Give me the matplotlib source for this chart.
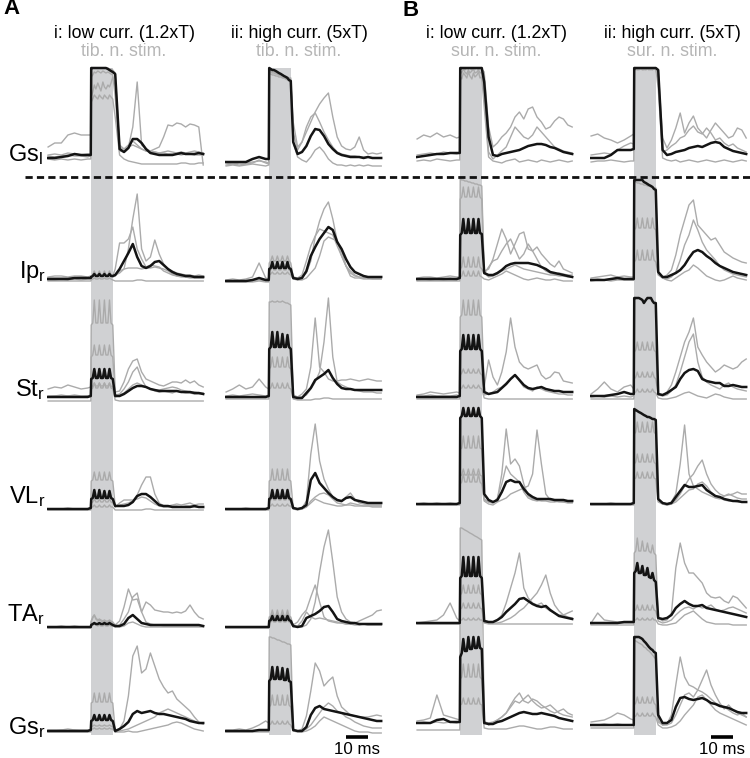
import matplotlib
matplotlib.use('Agg')
import matplotlib.pyplot as plt

plt.rcParams['font.family'] = ['Liberation Sans', 'DejaVu Sans']
plt.rcParams['mathtext.fontset'] = 'custom'
plt.rcParams['mathtext.rm'] = 'Liberation Sans'
plt.rcParams['mathtext.it'] = 'Liberation Sans'

# ---------------- time grid (ms, stimulus train 0-10 ms) ----------------
T_PRE = [-19.5, -16.5, -13.5, -10.5, -7.5, -4.5, -1.5, -0.1]
T_STIM = [0.1, 0.8, 1.5, 2.2, 3.1, 3.8, 4.5, 5.4, 6.1, 6.8, 7.7, 8.4, 9.1, 9.9]
T_POST = [11, 13, 15, 17, 19, 21, 23, 25, 27, 29, 31, 33, 35, 37, 39, 41, 43, 45, 47, 49, 51]
TIME = T_PRE + T_STIM + T_POST


def tr(pre, stim, post):
    assert len(pre) == 8 and len(stim) == 14 and len(post) == 21, (len(pre), len(stim), len(post))
    return pre + stim + post

# ---------------- labels ----------------
ROW_LABELS = [r'Gs$_{\rm l}$', r'Ip$_{\rm r}$', r'St$_{\rm r}$', r'VL$_{\rm r}$', r'TA$_{\rm r}$', r'Gs$_{\rm r}$']
COL_TITLES = ['i: low curr. (1.2xT)', 'ii: high curr. (5xT)', 'i: low curr. (1.2xT)', 'ii: high curr. (5xT)']
COL_SUBTITLES = ['tib. n. stim.', 'tib. n. stim.', 'sur. n. stim.', 'sur. n. stim.']
PANEL_LETTERS = ['A', 'B']
SCALE_LABEL = '10 ms'
SCALE_MS = [35, 45]

# ---------------- EMG envelopes (amplitude above baseline) ----------------
# Gs_l
GSL_AI_K = tr([-1, -1, 0, 1, 3, 2, 2, 2], [89, 89, 89, 89, 89, 89, 89, 89, 89, 89, 88, 87, 86, 85],
              [83, 8, 5, 9, 18, 18, 14, 8, 4, 3, 2, 2, 2, 2, 3, 4, 3, 3, 3, 4, 3])
GSL_AI_G = [
    tr([10, 14, 14, 22, 24, 22, 22, 22], [60, 65, 72, 68, 74, 70, 66, 75, 70, 68, 72, 70, 74, 80],
       [70, 12, 8, 10, 12, 10, 8, 6, 6, 8, 10, 20, 32, 31, 34, 33, 30, 33, 32, 30, -8]),
    tr([2, 3, 2, 4, 3, 2, 3, 3], [80, 82, 85, 84, 86, 85, 84, 86, 85, 84, 85, 84, 83, 82],
       [60, 6, 5, 10, 30, 75, 12, 8, 6, 5, 4, 4, 3, 3, 3, 2, 3, 3, 2, 2, 2]),
    tr([-2, -3, -2, -3, -2, -3, -2, -2], [55, 58, 62, 60, 58, 62, 60, 58, 62, 60, 58, 62, 60, 58],
       [40, 2, -2, -4, -5, -6, -7, -7, -7, -7, -7, -7, -7, -7, -7, -6, -6, -7, -7, -6, -6]),
    tr([1, 0, 1, 2, 1, 1, 0, 1], [89, 89, 89, 89, 89, 89, 89, 89, 89, 89, 89, 88, 88, 87],
       [84, 10, 8, 12, 16, 12, 8, 6, 5, 5, 4, 5, 6, 5, 4, 5, 4, 5, 6, 5, 4]),
]
GSL_AII_K = tr([0, 0, 0, 0, 3, 5, 3, 3], [94, 93, 92, 92, 91, 90, 89, 88, 87, 86, 85, 84, 82, 81],
               [20, 8, 10, 16, 26, 33, 32, 26, 18, 13, 9, 7, 6, 5, 5, 5, 4, 5, 4, 4, 4])
GSL_AII_G = [
    tr([-3, -2, -3, -2, -1, 2, -1, -2], [92, 91, 90, 90, 89, 88, 87, 86, 85, 84, 83, 82, 81, 80],
       [40, 15, 20, 30, 40, 50, 58, 64, 69, 45, 25, 16, 13, 12, 15, 25, 12, 8, 9, 8, 9]),
    tr([-1, -2, -1, -1, 0, 1, 0, -1], [90, 90, 89, 89, 88, 88, 87, 87, 86, 86, 85, 85, 84, 84],
       [30, 12, 20, 35, 45, 49, 40, 30, 22, 15, 10, 8, 7, 6, 6, 5, 5, 5, 4, 4, 4]),
    tr([-4, -3, -4, -3, -2, -3, -4, -3], [88, 88, 87, 87, 86, 86, 85, 85, 84, 84, 83, 83, 82, 82],
       [20, 5, 2, 0, 5, 12, 15, 10, 3, -1, -3, -3, -4, -3, -4, -3, -4, -3, -4, -4, -4]),
]
GSL_BI_K = tr([0, 1, 2, 3, 3, 4, 4, 4], [89, 89, 89, 89, 89, 89, 89, 89, 89, 89, 89, 89, 89, 89],
              [75, 20, 2, 1, 3, 4, 5, 6, 7, 9, 11, 12, 13, 13, 12, 10, 9, 7, 5, 4, 3])
GSL_BI_G = [
    tr([18, 22, 20, 24, 20, 22, 19, 20], [89, 88, 89, 87, 89, 88, 89, 87, 89, 88, 89, 87, 89, 88],
       [85, 30, 10, 14, 20, 24, 30, 40, 45, 38, 48, 50, 40, 35, 28, 30, 36, 40, 38, 32, 30]),
    tr([-4, -3, -4, -2, -3, -4, -3, -3], [86, 84, 88, 85, 83, 87, 84, 86, 88, 84, 85, 87, 84, 85],
       [60, 5, -2, 2, 6, 10, 20, 30, 25, 20, 18, 22, 30, 25, 20, 15, 10, 8, 6, 5, 4]),
    tr([2, 3, 4, 3, 5, 4, 3, 4], [80, 78, 84, 82, 79, 85, 81, 78, 84, 80, 82, 85, 79, 80],
       [50, 0, -4, -5, -6, -4, -3, -2, -5, -4, -3, -4, -5, -3, -4, -5, -4, -3, -4, -5, -4]),
]
GSL_BII_K = tr([0, 0, 0, 3, 8, 8, 8, 9], [90, 90, 90, 90, 90, 90, 90, 90, 90, 90, 90, 90, 90, 90],
               [88, 8, 3, 4, 6, 7, 8, 10, 11, 12, 11, 13, 15, 16, 15, 11, 9, 7, 6, 5, 4])
GSL_BII_G = [
    tr([22, 24, 20, 18, 15, 18, 22, 24], [90, 89, 90, 88, 90, 89, 90, 88, 90, 89, 90, 88, 90, 89],
       [88, 20, 10, 18, 30, 45, 25, 35, 42, 30, 25, 20, 28, 35, 30, 25, 20, 22, 30, 28, 20]),
    tr([-4, -3, -3, -2, -3, -4, -3, -3], [89, 90, 88, 90, 89, 90, 88, 90, 89, 90, 88, 90, 89, 90],
       [70, 0, -2, -3, -2, -4, -3, -2, -3, -4, -3, -2, -3, -4, -3, -2, -3, -4, -3, -2, -3]),
    tr([3, 4, 5, 4, 8, 12, 15, 14], [90, 88, 90, 89, 90, 88, 90, 89, 90, 88, 90, 89, 90, 88],
       [80, 6, 8, 12, 15, 20, 22, 28, 32, 26, 24, 30, 25, 18, 20, 15, 12, 14, 10, 8, 6]),
]
# Ip_r
IPR_AI_K = tr([0, 0, 0, 0, 1, 1, 1, 1], [2, 3, 5, 3, 3, 5, 3, 3, 5, 3, 3, 5, 3, 3],
              [4, 10, 18, 26, 35, 22, 13, 11, 13, 17, 18, 14, 10, 7, 5, 4, 3, 3, 2, 2, 2])
IPR_AI_G = [
    tr([2, 3, 3, 2, 3, 3, 2, 3], [3, 4, 8, 4, 4, 8, 4, 4, 8, 4, 4, 8, 4, 3],
       [4, 6, 10, 30, 60, 85, 30, 18, 22, 39, 25, 15, 10, 8, 6, 5, 4, 4, 3, 4, 3]),
    tr([1, 1, 1, 1, 1, 2, 1, 1], [3, 4, 7, 4, 4, 7, 4, 4, 7, 4, 4, 7, 4, 3],
       [10, 36, 36, 40, 52, 30, 20, 12, 14, 13, 12, 8, 6, 4, 3, 3, 2, 2, 3, 2, 2]),
    tr([-1, -1, 0, -1, 0, -1, 0, 0], [2, 3, 4, 3, 3, 4, 3, 3, 4, 3, 3, 4, 3, 2],
       [3, 8, 10, 11, 11, 11, 10, 11, 11, 12, 11, 10, 8, 5, 3, 2, 2, 1, 1, 1, 1]),
    tr([-2, -2, -2, -2, -2, -2, -2, -2], [-1, 0, 1, 0, 0, 1, 0, 0, 1, 0, 0, 1, 0, -1],
       [-2, -2, -2, -2, -2, -1, -1, -2, -2, -2, -2, -2, -2, -2, -2, -2, -2, -2, -2, -2, -2]),
]
IPR_AII_K = tr([0, 0, 0, 0, 1, 3, 1, 1], [12, 13, 19, 13, 13, 19, 13, 13, 19, 13, 13, 19, 13, 12],
               [3, 2, 3, 10, 25, 34, 42, 48, 54, 51, 39, 32, 22, 14, 9, 7, 5, 4, 4, 4, 4])
IPR_AII_G = [
    tr([1, 2, 1, 2, 4, 18, 3, 2], [18, 20, 25, 20, 20, 25, 20, 20, 25, 20, 20, 25, 20, 18],
       [4, 3, 4, 8, 20, 44, 60, 72, 79, 62, 40, 25, 15, 8, 5, 4, 3, 3, 3, 3, 3]),
    tr([0, 0, 0, 0, 0, 1, 0, 0], [10, 11, 15, 11, 11, 15, 11, 11, 15, 11, 11, 15, 11, 10],
       [2, 1, 1, 3, 8, 13, 25, 40, 44, 42, 40, 30, 15, 5, 3, 3, 2, 2, 2, 2, 2]),
    tr([-1, -1, -1, -1, -1, 0, -1, -1], [6, 7, 9, 7, 7, 9, 7, 7, 9, 7, 7, 9, 7, 6],
       [2, 3, 6, 20, 35, 45, 52, 50, 48, 46, 35, 25, 15, 10, 6, 4, 3, 3, 2, 2, 2]),
]
IPR_BI_K = tr([0, 0, 0, 0, 0, 0, 0, 1], [44, 46, 60, 46, 46, 60, 46, 46, 60, 46, 46, 60, 46, 45],
              [6, 4, 4, 6, 9, 13, 15, 16, 16, 16, 16, 15, 14, 12, 10, 7, 6, 5, 4, 3, 2])
IPR_BI_G = [
    tr([1, 2, 2, 1, 2, 3, 2, 2], [80, 82, 92, 82, 82, 92, 82, 82, 92, 82, 82, 92, 82, 80],
       [8, 10, 20, 35, 50, 40, 25, 35, 45, 47, 30, 28, 32, 25, 20, 15, 12, 18, 10, 8, 6]),
    tr([-1, 0, -1, 0, -1, 0, -1, 0], [10, 12, 22, 12, 12, 22, 12, 12, 22, 12, 12, 22, 12, 10],
       [5, 12, 18, 20, 28, 35, 40, 30, 20, 25, 35, 28, 20, 12, 8, 6, 4, 6, 5, 4, 4]),
    tr([-2, -2, -2, -2, -2, -2, -2, -2], [2, 3, 8, 3, 3, 8, 3, 3, 8, 3, 3, 8, 3, 2],
       [0, -1, 1, 3, 5, 8, 6, 4, 2, 0, -1, 0, 1, 0, -1, -1, 0, -1, -2, -2, -2]),
    tr([0, 0, 1, 0, 0, 1, 0, 0], [100, 99, 99, 98, 98, 97, 97, 96, 96, 95, 95, 94, 94, 93],
       [6, 2, 3, 5, 8, 10, 12, 14, 12, 10, 9, 8, 7, 6, 5, 4, 4, 3, 3, 2, 2]),
]
IPR_BII_K = tr([0, 0, 0, 1, 2, 1, 1, 1], [100, 100, 100, 100, 100, 100, 98, 97, 96, 95, 94, 93, 91, 90],
               [8, 3, 3, 5, 7, 10, 15, 22, 28, 30, 28, 24, 21, 17, 14, 12, 10, 8, 7, 6, 5])
IPR_BII_G = [
    tr([2, 3, 4, 5, 3, 4, 3, 3], [50, 52, 62, 52, 52, 62, 52, 52, 62, 52, 52, 62, 52, 50],
       [8, 2, 5, 10, 25, 45, 60, 75, 80, 55, 50, 45, 40, 42, 35, 28, 25, 22, 20, 18, 17]),
    tr([-1, 0, 0, -1, 0, 0, 0, 0], [18, 20, 30, 20, 20, 30, 20, 20, 30, 20, 20, 30, 20, 18],
       [5, 2, 1, 3, 8, 20, 35, 45, 60, 50, 38, 30, 25, 20, 14, 10, 8, 6, 5, 4, 3]),
    tr([0, 1, 0, 0, 1, 0, 0, 0], [98, 98, 97, 97, 96, 96, 95, 95, 94, 94, 93, 93, 92, 92],
       [6, 2, 0, -1, 2, 5, 8, 10, 15, 12, 8, 4, 2, 0, -1, 0, 2, 4, 2, 1, 0]),
]
# St_r
STR_AI_K = tr([0, 0, 0, 0, 0, 0, 0, 1], [18, 19, 28, 19, 19, 28, 19, 19, 28, 19, 19, 28, 19, 18],
              [1, 1, 3, 6, 9, 11, 11, 10, 8, 7, 6, 6, 6, 6, 6, 5, 5, 5, 4, 4, 3])
STR_AI_G = [
    tr([8, 10, 9, 12, 10, 8, 9, 10], [72, 74, 97, 74, 74, 97, 74, 74, 97, 74, 74, 97, 74, 72],
       [5, 6, 15, 28, 36, 38, 25, 18, 16, 14, 12, 11, 13, 15, 15, 14, 17, 14, 16, 12, 10]),
    tr([1, 1, 2, 1, 2, 1, 1, 2], [40, 42, 52, 42, 42, 52, 42, 42, 52, 42, 42, 52, 42, 40],
       [2, 3, 8, 15, 25, 30, 18, 10, 8, 6, 5, 6, 5, 4, 6, 5, 4, 4, 3, 3, 3]),
    tr([-4, -4, -4, -4, -4, -4, -4, -4], [8, 9, 14, 9, 9, 14, 9, 9, 14, 9, 9, 14, 9, 8],
       [-3, -4, -4, -4, -4, -4, -4, -4, -4, -4, -4, -4, -4, -4, -4, -4, -4, -4, -4, -4, -4]),
    tr([0, 1, 0, 1, 1, 0, 1, 1], [10, 11, 14, 11, 11, 14, 11, 11, 14, 11, 11, 14, 11, 10],
       [0, 2, 4, 8, 12, 14, 12, 10, 8, 7, 7, 8, 9, 10, 9, 7, 6, 5, 5, 4, 4]),
]
STR_AII_K = tr([0, 0, 0, 0, 0, 0, 0, 1], [48, 50, 65, 50, 50, 65, 50, 50, 63, 50, 50, 62, 50, 48],
               [0, -1, -1, 4, 9, 17, 20, 23, 27, 19, 13, 9, 8, 8, 7, 7, 7, 7, 7, 7, 7])
STR_AII_G = [
    tr([5, 8, 12, 8, 10, 18, 10, 8], [95, 95, 96, 95, 95, 96, 95, 95, 96, 95, 94, 94, 93, 92],
       [2, 0, 3, 8, 30, 79, 30, 25, 18, 16, 16, 17, 17, 18, 17, 16, 17, 18, 17, 16, 16]),
    tr([1, 2, 1, 2, 3, 2, 1, 2], [28, 30, 40, 30, 30, 40, 30, 30, 40, 30, 30, 40, 30, 28],
       [1, 0, 0, 2, 8, 15, 25, 55, 99, 40, 15, 12, 10, 8, 7, 6, 5, 5, 5, 4, 4]),
    tr([-2, -2, -2, -2, -2, -2, -2, -2], [8, 9, 14, 9, 9, 14, 9, 9, 14, 9, 9, 14, 9, 8],
       [-2, -3, -3, -3, -3, -2, -2, -1, -1, -2, -2, -2, -2, -2, -2, -2, -2, -2, -2, -2, -2]),
]
STR_BI_K = tr([0, 0, 0, 0, 0, 0, 0, 1], [46, 48, 62, 48, 48, 62, 48, 48, 62, 48, 48, 62, 48, 46],
              [5, 3, 4, 5, 9, 13, 18, 22, 17, 12, 9, 8, 9, 10, 8, 7, 6, 6, 5, 5, 5])
STR_BI_G = [
    tr([2, 3, 5, 4, 3, 4, 5, 4], [80, 82, 97, 82, 82, 97, 82, 82, 97, 82, 82, 97, 82, 80],
       [10, 37, 20, 12, 25, 45, 79, 50, 35, 30, 28, 30, 32, 22, 18, 20, 25, 24, 16, 15, 14]),
    tr([1, 1, 2, 1, 1, 1, 2, 1], [22, 24, 28, 24, 24, 28, 24, 24, 28, 24, 24, 28, 24, 22],
       [2, 3, 5, 8, 10, 14, 18, 22, 16, 10, 8, 6, 10, 8, 6, 5, 4, 3, 3, 2, 2]),
    tr([-2, -2, -2, -2, -2, -2, -2, -2], [8, 9, 12, 9, 9, 12, 9, 9, 12, 9, 9, 12, 9, 8],
       [-1, -2, -2, -2, -2, -2, -2, -2, -2, -2, -2, -2, -2, -2, -2, -2, -2, -2, -2, -2, -2]),
]
STR_BII_K = tr([1, 1, 1, 2, 3, 5, 3, 3], [99, 99, 99, 99, 98, 97, 94, 97, 99, 99, 99, 96, 94, 94],
               [3, 2, 4, 7, 10, 18, 24, 27, 28, 26, 18, 16, 15, 14, 14, 11, 11, 12, 11, 10, 10])
STR_BII_G = [
    tr([3, 8, 15, 8, 5, 10, 12, 8], [45, 47, 55, 47, 47, 55, 47, 47, 55, 47, 47, 55, 47, 45],
       [3, 2, 5, 12, 25, 40, 55, 65, 79, 50, 42, 35, 30, 25, 28, 32, 30, 28, 30, 35, 38]),
    tr([0, 1, 0, 1, 0, 1, 0, 1], [18, 20, 25, 20, 20, 25, 20, 20, 25, 20, 20, 25, 20, 18],
       [2, 1, 2, 6, 12, 25, 40, 55, 63, 35, 20, 15, 12, 10, 8, 12, 14, 10, 8, 7, 6]),
    tr([-2, -2, -2, -2, -2, -2, -2, -2], [4, 5, 8, 5, 5, 8, 5, 5, 8, 5, 5, 8, 5, 4],
       [-1, -2, -2, -1, 0, 2, 4, 5, 3, 1, 0, -1, 1, 3, 2, 0, -1, -2, -2, -2, -2]),
]
# VL_r
VLR_AI_K = tr([0, 0, 0, 0, 0, 0, 0, 1], [10, 11, 19, 11, 11, 19, 11, 11, 18, 11, 11, 18, 11, 10],
              [3, 3, 3, 4, 7, 13, 15, 15, 12, 8, 4, 3, 3, 2, 2, 2, 2, 2, 3, 2, 2])
VLR_AI_G = [
    tr([0, 0, 0, 1, 0, 0, 0, 1], [28, 29, 37, 29, 29, 37, 29, 29, 37, 29, 29, 37, 29, 28],
       [3, 4, 5, 6, 8, 14, 24, 32, 32, 15, 6, 3, 3, 4, 5, 4, 5, 6, 4, 5, 5]),
    tr([0, 0, 0, 0, 0, 0, 0, 0], [6, 7, 10, 7, 7, 10, 7, 7, 10, 7, 7, 10, 7, 6],
       [2, 6, 9, 9, 9, 10, 12, 11, 8, 5, 3, 2, 2, 3, 3, 2, 3, 3, 2, 2, 2]),
    tr([-1, -1, -1, -1, -1, -1, -1, -1], [2, 2, 4, 2, 2, 4, 2, 2, 4, 2, 2, 4, 2, 2],
       [-1, -1, -1, -1, -1, -1, -1, 0, 0, -1, -1, -1, -1, -1, -1, -1, -1, -1, -1, -1, -1]),
]
VLR_AII_K = tr([0, 0, 0, 0, 0, 0, 0, 1], [10, 11, 19, 11, 11, 19, 11, 11, 19, 11, 11, 19, 11, 10],
               [1, 0, 1, 4, 29, 36, 26, 21, 16, 12, 9, 8, 11, 12, 9, 8, 7, 6, 6, 6, 6])
VLR_AII_G = [
    tr([0, 0, 0, 1, 0, 0, 0, 1], [28, 29, 40, 29, 29, 40, 29, 29, 40, 29, 29, 40, 29, 28],
       [1, 0, 1, 8, 55, 85, 48, 30, 20, 12, 8, 7, 12, 16, 10, 6, 5, 4, 4, 4, 4]),
    tr([-1, -1, -1, -1, -1, -1, -1, -1], [3, 3, 5, 3, 3, 5, 3, 3, 5, 3, 3, 5, 3, 3],
       [0, -1, 0, 2, 8, 12, 15, 16, 14, 10, 6, 5, 4, 4, 3, 3, 3, 3, 2, 2, 2]),
    tr([0, 0, 0, 0, 0, 0, 0, 0], [8, 9, 12, 9, 9, 12, 9, 9, 12, 9, 9, 12, 9, 8],
       [1, 0, 0, 2, 6, 10, 8, 6, 5, 4, 3, 3, 4, 6, 5, 4, 3, 3, 3, 3, 3]),
]
VLR_BI_K = tr([0, 0, 0, 0, 0, 0, 0, 1], [86, 88, 96, 88, 88, 96, 88, 88, 96, 88, 88, 96, 88, 86],
              [10, 4, 2, 4, 12, 22, 24, 22, 22, 15, 10, 7, 5, 5, 5, 5, 4, 4, 4, 3, 3])
VLR_BI_G = [
    tr([0, 1, 0, 1, 0, 1, 0, 1], [55, 56, 68, 56, 56, 68, 56, 56, 68, 56, 56, 68, 56, 55],
       [5, 2, 1, 5, 30, 75, 40, 45, 38, 20, 8, 5, 4, 3, 3, 2, 2, 3, 2, 2, 2]),
    tr([-1, -1, -1, -1, -1, -1, -1, -1], [20, 22, 30, 22, 22, 30, 22, 22, 30, 22, 22, 30, 22, 20],
       [3, 0, -1, 2, 4, 6, 10, 12, 14, 16, 18, 30, 74, 40, 10, 4, 3, 2, 2, 1, 1]),
    tr([0, 0, 0, 0, 0, 0, 0, 0], [28, 29, 35, 29, 29, 35, 29, 29, 35, 29, 29, 35, 29, 28],
       [4, 2, 1, 6, 20, 38, 30, 26, 22, 12, 6, 4, 3, 4, 5, 4, 3, 3, 4, 2, 2]),
]
VLR_BII_K = tr([0, 0, 0, 0, 0, 0, 0, 1], [95, 94, 93, 92, 91, 90, 89, 88, 87, 87, 86, 85, 85, 84],
               [5, 1, 0, 1, 7, 13, 19, 17, 17, 18, 19, 14, 11, 8, 7, 5, 4, 3, 3, 2, 2])
VLR_BII_G = [
    tr([0, 0, 0, 1, 0, 0, 0, 1], [70, 72, 82, 72, 72, 82, 72, 72, 82, 72, 72, 82, 72, 70],
       [5, 1, 0, 2, 10, 40, 79, 30, 18, 15, 12, 10, 8, 6, 5, 8, 10, 8, 6, 5, 5]),
    tr([-1, -1, -1, -1, -1, -1, -1, -1], [40, 42, 50, 42, 42, 50, 42, 42, 50, 42, 42, 50, 42, 40],
       [3, 0, -1, 0, 4, 10, 18, 25, 30, 38, 44, 30, 20, 14, 10, 8, 9, 10, 12, 10, 10]),
    tr([0, 0, 0, 0, 0, 0, 0, 0], [25, 26, 32, 26, 26, 32, 26, 26, 32, 26, 26, 32, 26, 25],
       [2, 0, -1, 0, 2, 6, 10, 14, 15, 20, 22, 18, 12, 8, 6, 4, 3, 3, 2, 2, 2]),
]
# TA_r
TAR_AI_K = tr([0, 0, 0, 0, 0, 0, 0, 0], [2, 3, 4, 3, 3, 4, 3, 3, 4, 3, 3, 4, 3, 2],
              [1, 1, 3, 9, 12, 8, 4, 3, 2, 2, 2, 2, 2, 2, 2, 2, 2, 2, 2, 2, 1])
TAR_AI_G = [
    tr([0, 0, 1, 0, 1, 0, 0, 0], [6, 10, 12, 9, 7, 8, 7, 6, 7, 6, 6, 7, 6, 5],
       [2, 6, 20, 38, 27, 28, 15, 25, 22, 17, 16, 15, 15, 14, 15, 14, 16, 22, 15, 10, 8]),
    tr([0, 0, 0, 0, 0, 0, 0, 0], [5, 9, 12, 8, 6, 7, 6, 5, 6, 5, 5, 6, 5, 4],
       [0, 2, 8, 15, 30, 34, 15, 5, 3, 2, 2, 1, 1, 1, 1, 1, 1, 1, 1, 1, 1]),
    tr([-1, -1, -1, -1, -1, -1, -1, -1], [1, 2, 3, 2, 1, 2, 1, 1, 2, 1, 1, 2, 1, 1],
       [0, 0, 1, 4, 5, 3, 1, 0, 0, 0, 0, 0, 0, 0, 0, 0, 0, 0, 0, 0, 0]),
]
TAR_AII_K = tr([0, 0, 0, 0, 0, 0, 0, 0], [6, 7, 11, 7, 7, 11, 7, 7, 11, 7, 7, 11, 7, 6],
               [1, 0, 1, 9, 11, 13, 16, 20, 21, 15, 8, 6, 5, 4, 4, 3, 3, 3, 3, 3, 3])
TAR_AII_G = [
    tr([0, 0, 0, 0, 0, 0, 0, 0], [10, 11, 17, 11, 11, 17, 11, 11, 17, 11, 11, 17, 11, 10],
       [1, 0, 0, 2, 8, 25, 55, 80, 97, 65, 30, 15, 8, 5, 4, 3, 3, 2, 2, 2, 2]),
    tr([0, 0, 0, 0, 0, 0, 0, 0], [8, 9, 14, 9, 9, 14, 9, 9, 14, 9, 9, 14, 9, 8],
       [2, 5, 12, 17, 30, 42, 25, 10, 6, 5, 4, 4, 3, 3, 4, 6, 8, 10, 12, 16, 17]),
    tr([-1, -1, -1, -1, -1, -1, -1, -1], [4, 5, 7, 5, 5, 7, 5, 5, 7, 5, 5, 7, 5, 4],
       [0, 1, 6, 15, 10, 8, 9, 8, 7, 6, 5, 4, 3, 3, 2, 2, 3, 2, 2, 2, 2]),
]
TAR_BI_K = tr([0, 0, 0, 0, 0, 0, 0, 0], [45, 47, 66, 47, 47, 66, 47, 47, 66, 47, 47, 66, 47, 45],
              [2, 1, 1, 3, 6, 11, 15, 19, 24, 25, 22, 19, 17, 16, 17, 13, 10, 7, 6, 5, 4])
TAR_BI_G = [
    tr([0, 1, 2, 3, 8, 20, 5, 2], [28, 30, 38, 30, 30, 38, 30, 30, 38, 30, 30, 38, 30, 28],
       [3, 1, 1, 3, 8, 20, 35, 50, 70, 35, 25, 20, 18, 20, 15, 12, 10, 8, 8, 10, 12]),
    tr([0, 0, 0, 0, 0, 0, 0, 0], [14, 15, 20, 15, 15, 20, 15, 15, 20, 15, 15, 20, 15, 14],
       [1, 0, 0, 0, 1, 3, 5, 8, 12, 15, 20, 25, 30, 38, 48, 30, 18, 12, 8, 6, 5]),
    tr([-1, -1, -1, -1, -1, -1, -1, -1], [3, 3, 5, 3, 3, 5, 3, 3, 5, 3, 3, 5, 3, 3],
       [0, -1, -1, -1, -1, -1, -1, -1, -1, -1, -1, -1, -1, -1, -1, -1, -1, -1, -1, -1, -1]),
]
TAR_BII_K = tr([0, 0, 0, 0, 0, 1, 1, 1], [50, 52, 60, 50, 50, 57, 48, 48, 55, 46, 45, 50, 43, 41],
               [5, 4, 5, 8, 15, 19, 22, 19, 17, 17, 18, 15, 14, 13, 12, 11, 10, 9, 8, 7, 6])
TAR_BII_G = [
    tr([0, 10, 3, 2, 1, 1, 1, 1], [70, 72, 85, 72, 72, 82, 72, 72, 80, 72, 70, 78, 70, 68],
       [5, 2, 3, 10, 55, 80, 60, 50, 50, 45, 40, 30, 26, 25, 26, 22, 20, 27, 25, 20, 15]),
    tr([-1, 0, 0, 0, 0, 0, 0, 0], [12, 13, 18, 13, 13, 18, 13, 13, 18, 13, 13, 18, 13, 12],
       [2, 0, 1, 3, 8, 12, 15, 16, 14, 17, 15, 16, 18, 14, 12, 13, 15, 16, 14, 12, 10]),
    tr([-2, -2, -2, -2, -2, -2, -2, -2], [3, 3, 5, 3, 3, 5, 3, 3, 5, 3, 3, 5, 3, 3],
       [-1, -2, -2, -1, 0, 4, 8, 10, 12, 8, 4, 1, 0, -1, -1, -1, -1, -2, -2, -2, -2]),
]
# Gs_r
GSR_AI_K = tr([0, 0, 0, 0, 0, 0, 0, 1], [10, 11, 16, 11, 11, 16, 11, 11, 16, 11, 11, 16, 11, 10],
              [0, 2, 5, 9, 17, 20, 18, 19, 20, 18, 17, 17, 16, 15, 14, 13, 12, 10, 9, 8, 8])
GSR_AI_G = [
    tr([0, 0, 1, 0, 1, 0, 0, 1], [28, 29, 38, 29, 29, 38, 29, 29, 38, 29, 29, 38, 29, 28],
       [0, 2, 10, 35, 75, 85, 58, 62, 78, 65, 52, 44, 38, 40, 32, 28, 24, 20, 14, 9, 7]),
    tr([1, 1, 1, 2, 1, 1, 1, 1], [4, 5, 6, 5, 5, 6, 5, 5, 6, 5, 5, 6, 5, 4],
       [-1, 0, 1, 2, 4, 6, 8, 10, 12, 14, 18, 20, 22, 20, 18, 16, 14, 12, 10, 8, 7]),
    tr([-1, -1, -1, -1, -1, -1, -1, -1], [2, 2, 3, 2, 2, 3, 2, 2, 3, 2, 2, 3, 2, 2],
       [-1, -1, -1, 0, -1, -1, 0, 1, 2, 3, 4, 5, 6, 8, 9, 8, 6, 4, 2, 1, 0]),
]
GSR_AII_K = tr([0, 0, 0, 0, 0, 1, 1, 1], [50, 52, 64, 52, 52, 64, 52, 52, 63, 51, 51, 62, 50, 49],
               [1, 0, 0, 4, 16, 23, 25, 22, 21, 20, 19, 18, 17, 16, 15, 14, 13, 12, 11, 10, 10])
GSR_AII_G = [
    tr([1, 1, 2, 1, 3, 6, 10, 8], [94, 94, 93, 93, 92, 91, 91, 90, 89, 89, 88, 87, 87, 86],
       [2, 0, 2, 15, 40, 68, 60, 45, 50, 54, 35, 24, 20, 16, 15, 14, 14, 14, 15, 16, 15]),
    tr([0, 0, 0, 0, 0, 0, 0, 0], [24, 26, 36, 26, 26, 36, 26, 26, 36, 26, 26, 36, 26, 24],
       [0, 0, 0, 2, 6, 12, 18, 24, 28, 25, 20, 18, 14, 12, 9, 7, 5, 4, 3, 3, 3]),
    tr([-1, -1, -1, -1, -1, -1, -1, -1], [6, 7, 10, 7, 7, 10, 7, 7, 10, 7, 7, 10, 7, 6],
       [0, -1, -1, 0, 2, 5, 10, 14, 12, 10, 8, 6, 4, 2, 0, -1, -1, -1, -2, -2, -2]),
]
GSR_BI_K = tr([0, 0, 0, 3, 4, 1, 1, 1], [66, 70, 84, 72, 72, 86, 74, 74, 86, 75, 75, 86, 75, 74],
              [0, -1, -1, 1, 2, 4, 6, 8, 10, 11, 10, 9, 9, 10, 9, 8, 7, 5, 4, 3, 2])
GSR_BI_G = [
    tr([2, 3, 5, 28, 8, 6, 4, 3], [195, 195, 194, 193, 192, 191, 190, 189, 188, 187, 186, 185, 184, 183],
       [2, -2, 0, 3, 6, 10, 18, 25, 30, 22, 20, 24, 22, 18, 15, 12, 10, 12, 14, 10, 8]),
    tr([0, 1, 0, 1, 0, 1, 0, 1], [44, 46, 59, 46, 46, 59, 46, 46, 59, 46, 46, 59, 46, 44],
       [1, 0, 1, 3, 6, 10, 16, 22, 20, 24, 28, 22, 18, 15, 16, 18, 14, 10, 8, 7, 6]),
    tr([-7, -7, -7, -7, -7, -7, -7, -7], [18, 19, 25, 19, 19, 25, 19, 19, 25, 19, 19, 25, 19, 18],
       [-5, -6, -6, -6, -6, -6, -5, -4, -3, -3, -4, -5, -6, -6, -5, -4, -4, -5, -6, -6, -6]),
]
GSR_BII_K = tr([0, 0, 0, 0, 0, 0, 0, 0], [88, 88, 88, 88, 87, 86, 84, 82, 80, 78, 76, 75, 73, 72],
               [10, 2, 2, 5, 18, 27, 28, 26, 25, 26, 27, 25, 22, 21, 19, 18, 17, 15, 13, 12, 12])
GSR_BII_G = [
    tr([0, 0, 1, 0, 1, 0, 0, 0], [85, 84, 83, 82, 81, 80, 78, 77, 75, 74, 72, 70, 68, 66],
       [5, 0, 1, 10, 40, 68, 48, 40, 38, 35, 33, 30, 26, 22, 20, 18, 15, 12, 10, 12, 8]),
    tr([3, 4, 5, 8, 12, 10, 6, 5], [20, 22, 28, 22, 22, 28, 22, 22, 28, 22, 22, 28, 22, 20],
       [3, 0, 0, 2, 10, 20, 30, 32, 28, 35, 45, 55, 40, 30, 22, 16, 20, 15, 12, 10, 8]),
    tr([-3, -3, -3, -3, -3, -3, -3, -3], [8, 9, 12, 9, 9, 12, 9, 9, 12, 9, 9, 12, 9, 8],
       [0, -3, -3, -2, 0, 4, 10, 15, 20, 28, 30, 25, 20, 15, 12, 10, 8, 6, 4, 2, 0]),
]

PANELS = [  # rows top->bottom, columns A-i, A-ii, B-i, B-ii
    [(GSL_AI_K, GSL_AI_G), (GSL_AII_K, GSL_AII_G), (GSL_BI_K, GSL_BI_G), (GSL_BII_K, GSL_BII_G)],
    [(IPR_AI_K, IPR_AI_G), (IPR_AII_K, IPR_AII_G), (IPR_BI_K, IPR_BI_G), (IPR_BII_K, IPR_BII_G)],
    [(STR_AI_K, STR_AI_G), (STR_AII_K, STR_AII_G), (STR_BI_K, STR_BI_G), (STR_BII_K, STR_BII_G)],
    [(VLR_AI_K, VLR_AI_G), (VLR_AII_K, VLR_AII_G), (VLR_BI_K, VLR_BI_G), (VLR_BII_K, VLR_BII_G)],
    [(TAR_AI_K, TAR_AI_G), (TAR_AII_K, TAR_AII_G), (TAR_BI_K, TAR_BI_G), (TAR_BII_K, TAR_BII_G)],
    [(GSR_AI_K, GSR_AI_G), (GSR_AII_K, GSR_AII_G), (GSR_BI_K, GSR_BI_G), (GSR_BII_K, GSR_BII_G)],
]

# ---------------- layout (pixels) ----------------
W, H = 750, 758
PX_PER_MS = 2.2
XLIM = (-20, 52)
BAND_LEFT_PX = [91, 269, 460, 634]
ROW_BASE_PX = [
    [157, 279, 397, 509, 627, 731],
    [162, 281, 397, 509, 627, 731],
    [157, 279, 397, 504, 623, 723],
    [158, 280, 397, 504, 623, 725],
]
BAND_TOP_PX, BAND_BOT_PX = 68, 735
TITLE_X_PX = [124, 299, 496, 672]
LABEL_RIGHT_PX = [43, 46, 45, 45, 45, 46]
LABEL_BASE_PX = [161, 278, 396, 503, 621, 734]

BAND_COLOR = '#d0d1d3'
GRAY = '#ababab'
BLACK = '#141414'
SUB_GRAY = '#b5b5b5'

fig = plt.figure(figsize=(W / 100, H / 100), dpi=100)

for c in range(4):
    left = BAND_LEFT_PX[c] + XLIM[0] * PX_PER_MS
    width = (XLIM[1] - XLIM[0]) * PX_PER_MS
    ax = fig.add_axes([left / W, 0, width / W, 1])
    ax.set_xlim(*XLIM)
    ax.set_ylim(0, H)
    ax.axis('off')
    ax.axvspan(0, 10, ymin=(H - BAND_BOT_PX) / H, ymax=(H - BAND_TOP_PX) / H,
               color=BAND_COLOR, lw=0, zorder=0)
    for r in range(6):
        base = H - ROW_BASE_PX[c][r]
        black, grays = PANELS[r][c]
        for g in grays:
            ax.plot(TIME, [base + v for v in g], color=GRAY, lw=1.0, zorder=2,
                    solid_joinstyle='round')
        ax.plot(TIME, [base + v for v in black], color=BLACK, lw=1.8, zorder=3,
                solid_joinstyle='round')
    if c in (1, 3):
        ax.plot(SCALE_MS, [H - 737, H - 737], color='black', lw=2.6, solid_capstyle='butt')
        ax.text(sum(SCALE_MS) / 2, H - 750, SCALE_LABEL, ha='center', va='center', fontsize=12.2)

ov = fig.add_axes([0, 0, 1, 1], zorder=10)
ov.set_xlim(0, W)
ov.set_ylim(H, 0)
ov.axis('off')
ov.patch.set_alpha(0)

ov.plot([25, W], [177, 177], color='#111111', lw=2.0, dashes=(2.6, 1.5))

for c in range(4):
    ov.text(TITLE_X_PX[c], 33, COL_TITLES[c], ha='center', va='center', fontsize=12.8)
    ov.text(TITLE_X_PX[c], 52, COL_SUBTITLES[c], ha='center', va='center', fontsize=12.8,
            color=SUB_GRAY)

ov.text(3, 9, PANEL_LETTERS[0], ha='left', va='center', fontsize=16, fontweight='bold')
ov.text(402, 10, PANEL_LETTERS[1], ha='left', va='center', fontsize=16, fontweight='bold')

for r in range(6):
    ov.text(LABEL_RIGHT_PX[r], LABEL_BASE_PX[r], ROW_LABELS[r], ha='right', va='baseline',
            fontsize=17)

fig.savefig('out.png', dpi=100)
